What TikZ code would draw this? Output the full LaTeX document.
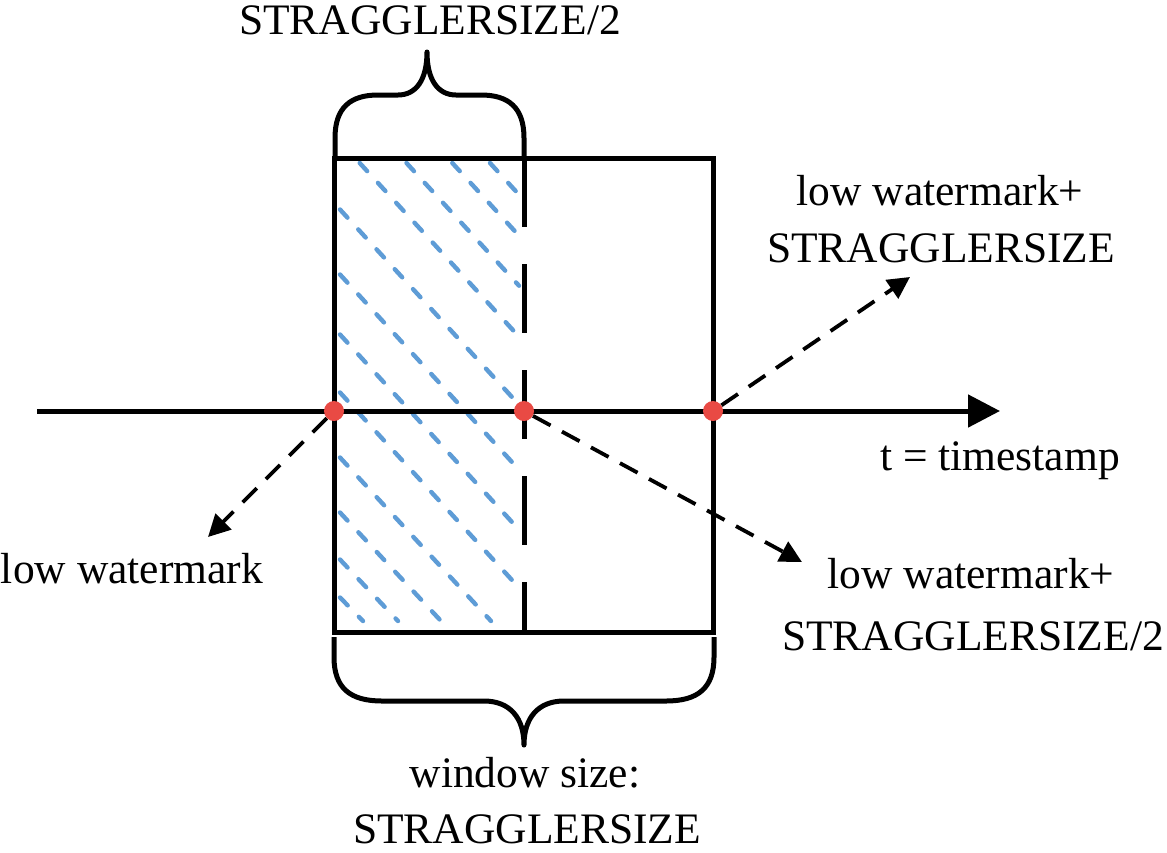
\documentclass[tikz,border=0pt]{standalone}
\usepackage{fontspec}
\setmainfont{Liberation Serif}
\usetikzlibrary{arrows.meta}
\definecolor{dotred}{RGB}{233,74,68}
\definecolor{hatchblue}{RGB}{94,156,214}
\begin{document}
\begin{tikzpicture}[x=1pt,y=-1pt,
  frame/.style={line width=5pt, black},
  midline/.style={line width=5pt, black, dash pattern=on 69pt off 37pt},
  hatchline/.style={line width=4.4pt, hatchblue, line cap=round, dash pattern=on 11pt off 16pt},
  pointer/.style={line width=3.8pt, black, dash pattern=on 20pt off 13pt, -{Triangle[length=22pt,width=22pt]}},
  axisarrow/.style={line width=5pt, black, -{Triangle[length=32pt,width=32pt]}},
  dot/.style={circle, fill=dotred, inner sep=0pt, minimum size=20pt},
  lbl/.style={font=\fontsize{43.5}{55}\selectfont, inner sep=0pt, anchor=base},
  brace/.style={line width=5pt, black, line join=round}
]
\useasboundingbox (0,0) rectangle (1167,852);

% hatching
\draw[hatchline] (490,163) -- (519,194.7);
\draw[hatchline] (452.3,163) -- (519,235.7);
\draw[hatchline] (406.5,163) -- (519,285.7);
\draw[hatchline] (359.7,163) -- (519,336.7);
\draw[hatchline] (340,209.5) -- (519,404.7);
\draw[hatchline] (340,274.5) -- (519,469.7);
\draw[hatchline] (340,334.5) -- (519,529.7);
\draw[hatchline] (340,392.5) -- (519,587.7);
\draw[hatchline] (340,457.5) -- (491,621);
\draw[hatchline] (340,512.5) -- (441,621);
\draw[hatchline] (340,559.5) -- (398,621);
\draw[hatchline] (340,597.5) -- (363,621);

% window rectangle and middle dashed line
\draw[frame] (334,158) rectangle (713,632);
\draw[midline] (524,158) -- (524,632);

% braces
\draw[brace] (335,158) -- (335,138) .. controls (335,108) and (350,95) .. (378,95) -- (398,95)
  .. controls (416,95) and (427,80) .. (427,52) .. controls (427,80) and (438,95) .. (456,95)
  -- (481,95) .. controls (509,95) and (524,108) .. (524,138) -- (524,158);
\draw[brace] (334,637) -- (334,657) .. controls (334,688) and (350,701) .. (382,701) -- (484,701)
  .. controls (510,701) and (524,718) .. (524,745) .. controls (524,718) and (538,701) .. (564,701)
  -- (666,701) .. controls (698,701) and (714,688) .. (714,657) -- (714,637);

% time axis
\coordinate (axs) at (37,411);
\coordinate (axe) at (1000,411);
\draw[axisarrow] (axs) -- (axe);

% points
\node[dot] (d1) at (334,411) {};
\node[dot] (d2) at (524,411) {};
\node[dot] (d3) at (713,411) {};

\coordinate (t1) at (208,537);
\coordinate (t2) at (802,562);
\coordinate (t3) at (910,277);
\draw[pointer] (d1) -- (t1);
\draw[pointer] (d2) -- (t2);
\draw[pointer] (d3) -- (t3);

% labels
\node[lbl] (top) at (430,34) {STRAGGLERSIZE/2};
\node[lbl] (rt1) at (940,205) {low watermark+};
\node[lbl] (rt2) at (941,262) {STRAGGLERSIZE};
\node[lbl] (ts) at (1000,470) {t = timestamp};
\node[lbl] (lw) at (132,583) {low watermark};
\node[lbl] (rb1) at (971,588) {low watermark+};
\node[lbl] (rb2) at (973,650) {STRAGGLERSIZE/2};
\node[lbl] (ws1) at (525,787) {window size:};
\node[lbl] (ws2) at (527,843) {STRAGGLERSIZE};
\end{tikzpicture}
\end{document}
